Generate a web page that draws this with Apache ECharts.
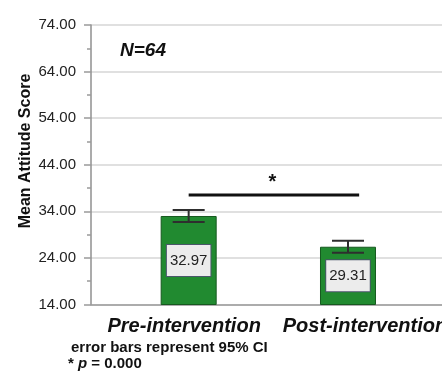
<!DOCTYPE html>
<html>
<head>
<meta charset="utf-8">
<script src="https://cdn.jsdelivr.net/npm/echarts@6/dist/echarts.min.js"></script>
<style>html,body{margin:0;padding:0;background:#fff;}#c{width:442px;height:385px;}</style>
</head>
<body>
<div id="c"></div>
<script>
const categories = ['Pre-intervention', 'Post-intervention'];
const catPositions = [0, 1];
const meanValues = [33.0, 26.4];
const meanLabels = ['32.97', '29.31'];
const ciLow = [31.7, 25.1];
const ciHigh = [34.3, 27.7];
const yTicks = [14, 24, 34, 44, 54, 64, 74];
const yMinorTicks = [19, 29, 39, 49, 59, 69];
const sigLineX = [0, 1.07];
const sigLineY = [37.5];
const sigStar = [0.525, 40.3];

const FONT = '"Liberation Sans", Arial, Helvetica, sans-serif';
const chart = echarts.init(document.getElementById('c'), null, {renderer: 'canvas'});

const barData = catPositions.map((x, i) => [x, meanValues[i]]);
const errData = catPositions.map((x, i) => [x, ciLow[i], ciHigh[i]]);
const catStyle = {fontFamily: FONT, fontSize: 20, fontWeight: 'bold', fontStyle: 'italic', color: '#111'};

chart.setOption({
  animation: false,
  backgroundColor: '#fff',
  grid: {left: 91, top: 25, bottom: 80.5, right: 0, containLabel: false, outerBoundsMode: 'none'},
  xAxis: {
    type: 'value', min: -0.613, max: 1.59,
    axisLine: {show: true, onZero: false, lineStyle: {color: '#9a9a9a', width: 1.5}},
    axisTick: {show: false},
    splitLine: {show: false},
    axisLabel: {
      customValues: catPositions,
      formatter: v => (Math.round(v) === 0 ? '{a|' : '{b|') + categories[Math.round(v)] + '}',
      ...catStyle, margin: 12,
      rich: {
        a: {...catStyle, padding: [0, 9, 0, 0]},
        b: {...catStyle, padding: [0, 0, 0, 34]}
      }
    }
  },
  yAxis: [{
    type: 'value', min: 14, max: 74,
    axisLine: {show: true, onZero: false, lineStyle: {color: '#8f8f8f', width: 1.5}},
    axisTick: {show: true, customValues: yTicks, length: 7, lineStyle: {color: '#9a9a9a', width: 1.5}},
    axisLabel: {customValues: yTicks, formatter: v => v.toFixed(2), fontFamily: FONT, fontSize: 15, color: '#222', margin: 15},
    splitLine: {show: true, lineStyle: {color: '#d6d6d6', width: 1.5}}
  }, {
    type: 'value', min: 14, max: 74, position: 'left',
    axisLine: {show: false, onZero: false},
    axisTick: {show: true, customValues: yMinorTicks, length: 4, lineStyle: {color: '#9a9a9a', width: 1.5}},
    axisLabel: {show: false},
    splitLine: {show: false}
  }],
  series: [{
    type: 'bar',
    data: barData,
    barWidth: 56,
    itemStyle: {color: '#218a30', borderColor: '#16591f', borderWidth: 1},
    label: {
      show: true, position: 'inside',
      formatter: p => meanLabels[p.dataIndex],
      fontFamily: FONT, fontSize: 15, color: '#222',
      backgroundColor: '#ececec', borderColor: '#4a566a', borderWidth: 1,
      padding: [7, 3], lineHeight: 17
    },
    z: 2
  }, {
    type: 'custom',
    data: errData,
    z: 3,
    renderItem: (params, api) => {
      const x = api.value(0);
      const top = api.coord([x, api.value(2)]);
      const bot = api.coord([x, api.value(1)]);
      const h = 16;
      const st = {stroke: '#2e2e2e', lineWidth: 2};
      return {type: 'group', children: [
        {type: 'line', shape: {x1: top[0], y1: top[1], x2: bot[0], y2: bot[1]}, style: st},
        {type: 'line', shape: {x1: top[0] - h, y1: top[1], x2: top[0] + h, y2: top[1]}, style: st},
        {type: 'line', shape: {x1: bot[0] - h, y1: bot[1], x2: bot[0] + h, y2: bot[1]}, style: st}
      ]};
    }
  }, {
    type: 'custom',
    data: [[sigLineX[0], sigLineX[1], sigLineY[0], sigStar[0], sigStar[1]]],
    z: 4,
    renderItem: (params, api) => {
      const a = api.coord([api.value(0), api.value(2)]);
      const b = api.coord([api.value(1), api.value(2)]);
      const s = api.coord([api.value(3), api.value(4)]);
      return {type: 'group', children: [
        {type: 'line', shape: {x1: a[0], y1: a[1], x2: b[0], y2: b[1]}, style: {stroke: '#111', lineWidth: 3}},
        {type: 'text', x: s[0], y: s[1], style: {text: '*', fontFamily: FONT, fontSize: 20, fontWeight: 'bold', fill: '#111', textAlign: 'center', textVerticalAlign: 'middle'}}
      ]};
    }
  }],
  graphic: [
    {type: 'text', left: 120, top: 41, style: {text: 'N=64', fontFamily: FONT, fontSize: 19, fontWeight: 'bold', fontStyle: 'italic', fill: '#111'}},
    {type: 'text', x: 26, y: 151, rotation: Math.PI / 2, style: {text: 'Mean Attitude Score', fontFamily: FONT, fontSize: 16, fontWeight: 'bold', fill: '#111', textAlign: 'center', textVerticalAlign: 'middle'}},
    {type: 'text', x: 71, y: 348, style: {text: 'error bars represent 95% CI', fontFamily: FONT, fontSize: 15, fontWeight: 'bold', fill: '#111', textVerticalAlign: 'middle'}},
    {type: 'text', x: 68, y: 364, style: {
      text: '* {i|p} = 0.000', fontFamily: FONT, fontSize: 15, fontWeight: 'bold', fill: '#111', textVerticalAlign: 'middle',
      rich: {i: {fontFamily: FONT, fontSize: 15, fontWeight: 'bold', fontStyle: 'italic', fill: '#111'}}
    }}
  ]
});
</script>
</body>
</html>
